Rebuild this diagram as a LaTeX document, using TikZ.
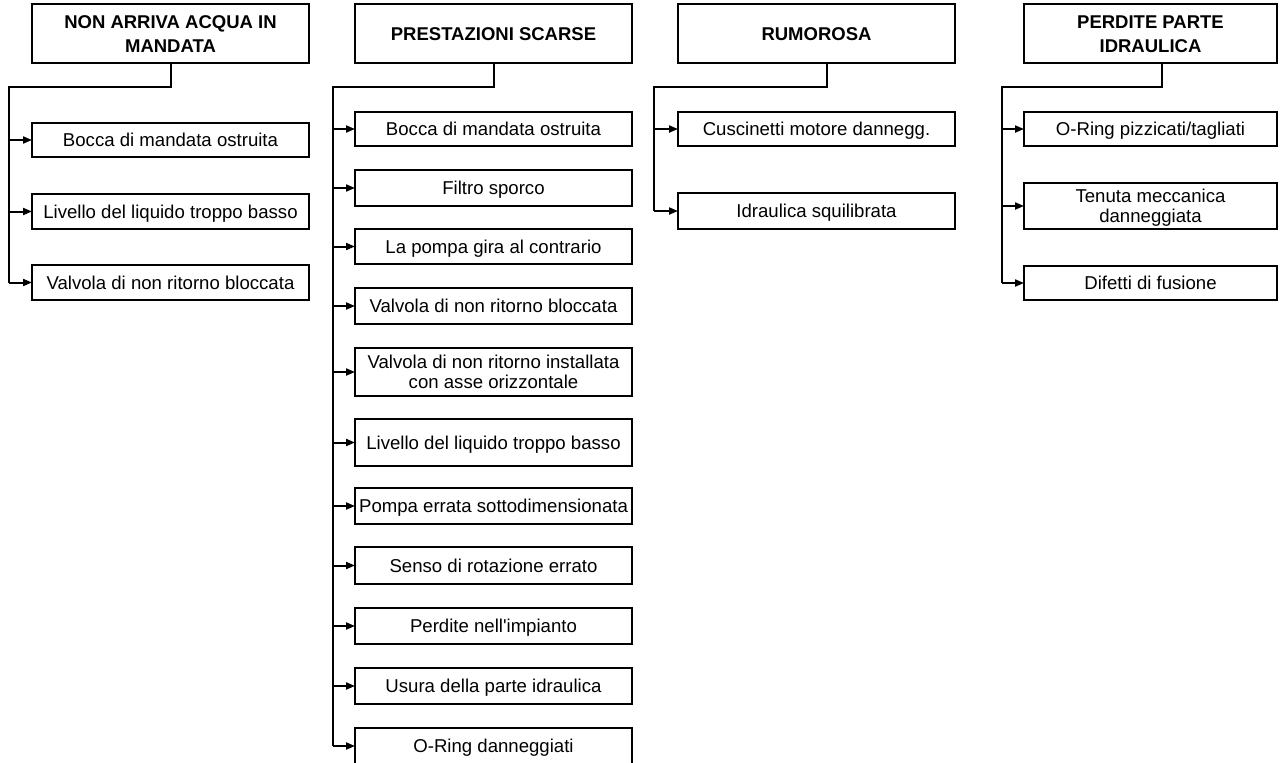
\documentclass[tikz,border=0pt]{standalone}
\usepackage{fontspec}
\setmainfont{Liberation Sans}[Ligatures=TeXOff]
\usetikzlibrary{arrows.meta,calc}
\tikzset{
  hbox/.style={draw, line width=1.6pt, rectangle, inner sep=0pt, align=center,
    font=\fontsize{18.5}{24}\selectfont\bfseries, minimum height=59pt,
    text height=13.2pt, text depth=0pt},
  hbox2/.style={hbox, text height=37.2pt},
  cbox/.style={draw, line width=1.6pt, rectangle, inner sep=0pt, align=center,
    font=\fontsize{18.6}{20.5}\selectfont, text height=13.3pt, text depth=0pt},
  cbox2/.style={cbox, text height=33.8pt},
  conn/.style={line width=2pt},
  arr/.style={line width=2pt, -{Triangle[length=9pt,width=7pt]}, shorten >=-0.8pt}
}
\begin{document}
\begin{tikzpicture}[x=1pt,y=-1pt]
\useasboundingbox (0,0) rectangle (1280,763);
% ---------------- column 1
\node[hbox2, minimum width=277pt] (h1) at (170.5,33.5) {NON ARRIVA ACQUA IN\\MANDATA};
\node[cbox, minimum width=277pt, minimum height=34pt] (c11) at (170.5,140) {Bocca di mandata ostruita};
\node[cbox, minimum width=277pt, minimum height=35pt] (c12) at (170.5,211.5) {Livello del liquido troppo basso};
\node[cbox, minimum width=277pt, minimum height=35pt] (c13) at (170.5,282.5) {Valvola di non ritorno bloccata};
\coordinate (t1) at (9,87);
\draw[conn] (h1.south) |- (t1) -- (t1 |- c13.west);
\foreach \c in {c11,c12,c13} \draw[arr] (t1 |- \c.west) -- (\c.west);
% ---------------- column 2
\node[hbox, minimum width=277pt] (h2) at (493.5,33.5) {PRESTAZIONI SCARSE};
\node[cbox, minimum width=277pt, minimum height=34pt] (c21) at (493.5,129) {Bocca di mandata ostruita};
\node[cbox, minimum width=277pt, minimum height=36pt] (c22) at (493.5,188) {Filtro sporco};
\node[cbox, minimum width=277pt, minimum height=35pt] (c23) at (493.5,246.5) {La pompa gira al contrario};
\node[cbox, minimum width=277pt, minimum height=36pt] (c24) at (493.5,306) {Valvola di non ritorno bloccata};
\node[cbox2, minimum width=277pt, minimum height=48pt] (c25) at (493.5,372) {Valvola di non ritorno installata\\con asse orizzontale};
\node[cbox, minimum width=277pt, minimum height=47pt] (c26) at (493.5,442.5) {Livello del liquido troppo basso};
\node[cbox, minimum width=277pt, minimum height=36pt] (c27) at (493.5,506) {Pompa errata sottodimensionata};
\node[cbox, minimum width=277pt, minimum height=37pt] (c28) at (493.5,565.5) {Senso di rotazione errato};
\node[cbox, minimum width=277pt, minimum height=36pt] (c29) at (493.5,626) {Perdite nell'impianto};
\node[cbox, minimum width=277pt, minimum height=36pt] (c210) at (493.5,686) {Usura della parte idraulica};
\node[cbox, minimum width=277pt, minimum height=36pt] (c211) at (493.5,746) {O-Ring danneggiati};
\coordinate (t2) at (333,87);
\draw[conn] (h2.south) |- (t2) -- (t2 |- c211.west);
\foreach \c in {c21,c22,c23,c24,c25,c26,c27,c28,c29,c210,c211} \draw[arr] (t2 |- \c.west) -- (\c.west);
% ---------------- column 3
\node[hbox, minimum width=277pt] (h3) at (816.5,33.5) {RUMOROSA};
\node[cbox, minimum width=277pt, minimum height=34pt] (c31) at (816.5,129) {Cuscinetti motore dannegg.};
\node[cbox, minimum width=277pt, minimum height=36pt] (c32) at (816.5,211) {Idraulica squilibrata};
\coordinate (t3) at (654,87);
\draw[conn] ($(h3.south)+(10.5,0)$) |- (t3) -- (t3 |- c32.west);
\foreach \c in {c31,c32} \draw[arr] (t3 |- \c.west) -- (\c.west);
% ---------------- column 4
\node[hbox2, minimum width=253pt] (h4) at (1150.5,33.5) {PERDITE PARTE\\IDRAULICA};
\node[cbox, minimum width=253pt, minimum height=34pt] (c41) at (1150.5,129) {O-Ring pizzicati/tagliati};
\node[cbox2, minimum width=253pt, minimum height=46pt] (c42) at (1150.5,206) {Tenuta meccanica\\danneggiata};
\node[cbox, minimum width=253pt, minimum height=34pt] (c43) at (1150.5,283) {Difetti di fusione};
\coordinate (t4) at (1002,87);
\draw[conn] ($(h4.south)+(11.5,0)$) |- (t4) -- (t4 |- c43.west);
\foreach \c in {c41,c42,c43} \draw[arr] (t4 |- \c.west) -- (\c.west);
\end{tikzpicture}
\end{document}
